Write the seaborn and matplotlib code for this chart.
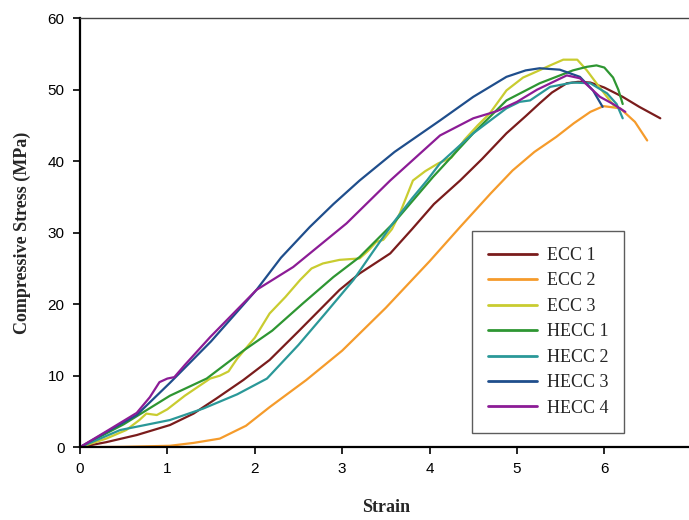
import pandas as pd
import matplotlib.pyplot as plt
import seaborn as sns

# Stress-strain curves
ecc1_x = [0, 0.3, 0.65, 1.03, 1.3, 1.56, 1.87, 2.17, 2.5, 2.97, 3.2, 3.55, 3.8, 4.05, 4.35, 4.6, 4.88, 5.1, 5.26, 5.4, 5.57, 5.7, 5.84, 6.0, 6.21, 6.4, 6.64]
ecc1_y = [0, 0.7, 1.7, 3.1, 4.7, 6.8, 9.4, 12.2, 16.2, 22.0, 24.3, 27.1, 30.5, 34.0, 37.3, 40.3, 43.9, 46.3, 48.1, 49.6, 50.9, 51.1, 51.0, 50.3, 49.0, 47.6, 46.0]

ecc2_x = [0, 0.5, 1.03, 1.3, 1.6, 1.9, 2.17, 2.59, 3.0, 3.5, 4.0, 4.35, 4.7, 4.95, 5.2, 5.45, 5.65, 5.84, 5.99, 6.18, 6.35, 6.49]
ecc2_y = [0, 0.05, 0.2, 0.6, 1.2, 3.0, 5.6, 9.4, 13.5, 19.5, 26.0, 30.8, 35.5, 38.7, 41.3, 43.4, 45.3, 46.9, 47.7, 47.4, 45.5, 42.9]

ecc3_x = [0, 0.3, 0.53, 0.68, 0.76, 0.88, 1.0, 1.2, 1.49, 1.6, 1.7, 1.8, 2.0, 2.17, 2.35, 2.52, 2.65, 2.78, 2.97, 3.2, 3.3, 3.39, 3.47, 3.57, 3.66, 3.81, 3.95, 4.1, 4.25, 4.4, 4.55, 4.69, 4.88, 5.07, 5.2, 5.38, 5.53, 5.69, 5.8, 5.91, 6.03, 6.12]
ecc3_y = [0, 1.2, 2.4, 3.8, 4.7, 4.5, 5.3, 7.2, 9.6, 10.0, 10.6, 12.4, 15.3, 18.7, 21.0, 23.4, 25.0, 25.7, 26.2, 26.4, 27.5, 28.7, 29.0, 30.5, 32.7, 37.3, 38.6, 39.7, 40.5, 43.0, 45.0, 46.7, 49.9, 51.7, 52.4, 53.4, 54.2, 54.2, 52.7, 50.9, 49.0, 47.6]

hecc1_x = [0, 0.5, 1.03, 1.45, 1.87, 2.2, 2.55, 2.9, 3.2, 3.6, 4.04, 4.5, 4.88, 5.26, 5.64, 5.8, 5.91, 6.0, 6.1, 6.16, 6.21]
hecc1_y = [0, 3.2, 7.2, 9.6, 13.5, 16.3, 20.1, 23.8, 26.6, 31.5, 37.8, 43.9, 48.5, 50.9, 52.7, 53.2, 53.4, 53.1, 51.7, 50.0, 48.0]

hecc2_x = [0, 0.46, 1.03, 1.41, 1.8, 2.14, 2.5, 2.8, 3.13, 3.35, 3.58, 3.8, 3.97, 4.12, 4.5, 4.88, 5.03, 5.15, 5.38, 5.64, 5.84, 6.03, 6.14, 6.21]
hecc2_y = [0, 2.4, 3.8, 5.4, 7.4, 9.6, 14.3, 18.6, 23.4, 27.3, 31.3, 34.8, 37.3, 39.7, 43.9, 47.4, 48.3, 48.5, 50.4, 51.0, 50.9, 49.5, 48.0, 46.0]

hecc3_x = [0, 0.3, 0.65, 1.03, 1.5, 2.02, 2.3, 2.63, 2.9, 3.2, 3.6, 4.12, 4.5, 4.88, 5.1, 5.26, 5.49, 5.72, 5.87, 5.98]
hecc3_y = [0, 2.1, 4.5, 9.0, 14.8, 22.0, 26.5, 30.8, 34.0, 37.3, 41.3, 45.7, 49.0, 51.8, 52.7, 53.0, 52.8, 51.8, 49.9, 47.6]

hecc4_x = [0, 0.3, 0.65, 0.8, 0.91, 1.0, 1.08, 1.2, 1.49, 2.02, 2.44, 3.05, 3.55, 4.12, 4.5, 4.77, 5.0, 5.23, 5.57, 5.72, 5.95, 6.1, 6.24]
hecc4_y = [0, 2.2, 4.8, 7.0, 9.1, 9.6, 9.8, 11.5, 15.4, 22.0, 25.2, 31.3, 37.3, 43.6, 46.0, 47.0, 48.3, 50.0, 52.0, 51.6, 49.0, 48.0, 46.9]

labels = ['ECC 1', 'ECC 2', 'ECC 3', 'HECC 1', 'HECC 2', 'HECC 3', 'HECC 4']
colors = ['#7a1c1c', '#f59b2b', '#c9cc30', '#2e9632', '#2a9898', '#1f4e8c', '#8c1c96']

curves = [(ecc1_x, ecc1_y), (ecc2_x, ecc2_y), (ecc3_x, ecc3_y), (hecc1_x, hecc1_y),
          (hecc2_x, hecc2_y), (hecc3_x, hecc3_y), (hecc4_x, hecc4_y)]

# long-form table for seaborn
frames = []
for name, (xs, ys) in zip(labels, curves):
    frames.append(pd.DataFrame({'strain': xs, 'stress': ys, 'specimen': name}))
data = pd.concat(frames, ignore_index=True)

sns.set_style('white')
plt.rcParams['font.family'] = ['Liberation Sans', 'DejaVu Sans']

fig = plt.figure(figsize=(6.89, 5.2), dpi=100)
ax = fig.add_axes([0.116, 0.14, 0.888, 0.825])

sns.lineplot(data=data, x='strain', y='stress', hue='specimen', hue_order=labels,
             palette=colors, estimator=None, sort=False, linewidth=1.6, ax=ax)

ax.set_xlim(0, 7)
ax.set_ylim(0, 60)
ax.set_xticks(range(0, 7))
ax.set_yticks(range(0, 61, 10))
ax.tick_params(axis='both', direction='out', length=5, width=1.2, labelsize=11,
               bottom=True, left=True, colors='black', pad=6)

ax.spines['right'].set_visible(False)
ax.spines['left'].set_linewidth(1.6)
ax.spines['bottom'].set_linewidth(1.6)
ax.spines['left'].set_color('black')
ax.spines['bottom'].set_color('black')
ax.spines['top'].set_linewidth(1.0)
ax.spines['top'].set_color('#444444')

ax.set_xlabel('Strain', fontfamily='Liberation Serif', fontweight='bold', fontsize=13, labelpad=16)
ax.set_ylabel('Compressive Stress (MPa)', fontfamily='Liberation Serif', fontweight='bold',
              fontsize=13, labelpad=12)

leg = ax.legend(loc='lower right', bbox_to_anchor=(0.89, 0.033), borderaxespad=0,
                frameon=True, fancybox=False, handlelength=2.7, handletextpad=0.55,
                labelspacing=0.47, prop={'family': 'Liberation Serif', 'size': 13},
                borderpad=0.9)
leg.get_frame().set_edgecolor('#333333')
leg.get_frame().set_linewidth(1.0)
for line in leg.get_lines():
    line.set_linewidth(2.0)

fig.savefig('out.png', dpi=100)
#plt.show()
